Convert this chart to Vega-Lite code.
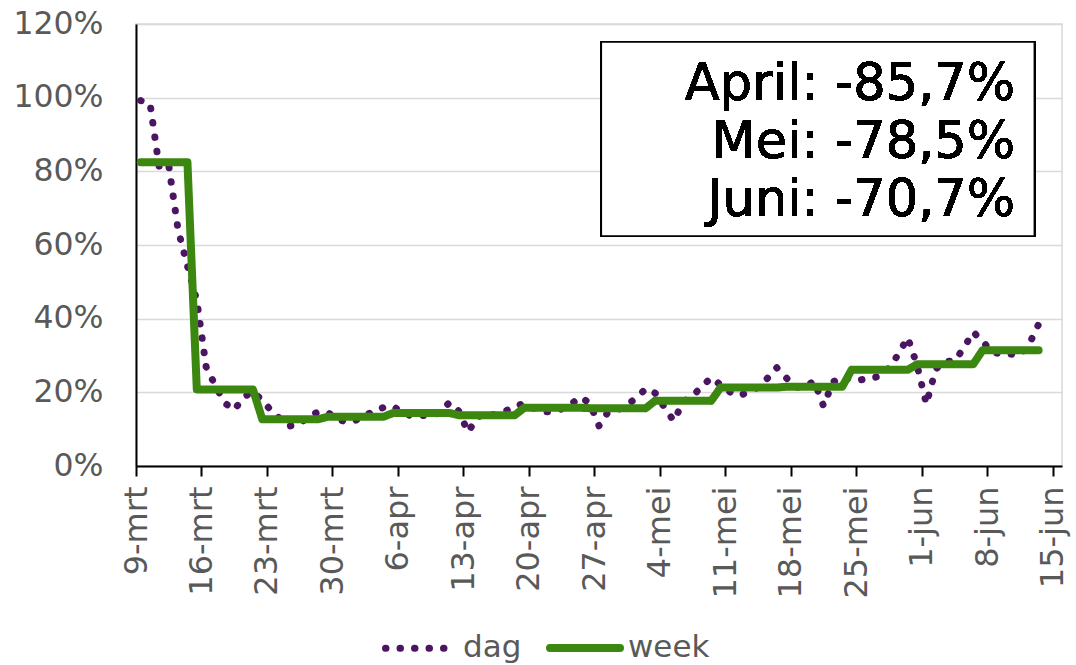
{
  "$schema": "https://vega.github.io/schema/vega-lite/v6.json",
  "width": 926,
  "height": 442,
  "autosize": "none",
  "padding": {"left": 136, "top": 24, "right": 14, "bottom": 199},
  "background": "white",
  "config": {
    "font": "DejaVu Sans",
    "view": {"stroke": "#d9d9d9", "strokeWidth": 1.5},
    "axis": {"labelFont": "DejaVu Sans", "labelFontSize": 31.5, "labelColor": "#595959", "domainColor": "#000000", "domainWidth": 2}
  },
  "data": {
    "values": [
      {"date": "2020-03-09", "dag": 99.2, "week": 82.5},
      {"date": "2020-03-10", "dag": 98.4, "week": 82.5},
      {"date": "2020-03-11", "dag": 80.8, "week": 82.5},
      {"date": "2020-03-12", "dag": 81.6, "week": 82.5},
      {"date": "2020-03-13", "dag": 64.1, "week": 82.5},
      {"date": "2020-03-14", "dag": 54.3, "week": 82.5},
      {"date": "2020-03-15", "dag": 44.9, "week": 20.8},
      {"date": "2020-03-16", "dag": 26.9, "week": 20.8},
      {"date": "2020-03-17", "dag": 21.7, "week": 20.8},
      {"date": "2020-03-18", "dag": 17.1, "week": 20.8},
      {"date": "2020-03-19", "dag": 15.2, "week": 20.8},
      {"date": "2020-03-20", "dag": 18.7, "week": 20.8},
      {"date": "2020-03-21", "dag": 20.2, "week": 20.8},
      {"date": "2020-03-22", "dag": 17.8, "week": 12.7},
      {"date": "2020-03-23", "dag": 14.9, "week": 12.7},
      {"date": "2020-03-24", "dag": 12.6, "week": 12.7},
      {"date": "2020-03-25", "dag": 10.9, "week": 12.7},
      {"date": "2020-03-26", "dag": 11.4, "week": 12.7},
      {"date": "2020-03-27", "dag": 13.6, "week": 12.7},
      {"date": "2020-03-28", "dag": 14.7, "week": 12.7},
      {"date": "2020-03-29", "dag": 14.5, "week": 13.4},
      {"date": "2020-03-30", "dag": 12.8, "week": 13.4},
      {"date": "2020-03-31", "dag": 11.9, "week": 13.4},
      {"date": "2020-04-01", "dag": 12.4, "week": 13.4},
      {"date": "2020-04-02", "dag": 13.6, "week": 13.4},
      {"date": "2020-04-03", "dag": 15.1, "week": 13.4},
      {"date": "2020-04-04", "dag": 15.9, "week": 13.4},
      {"date": "2020-04-05", "dag": 16.2, "week": 14.4},
      {"date": "2020-04-06", "dag": 14.4, "week": 14.4},
      {"date": "2020-04-07", "dag": 13.6, "week": 14.4},
      {"date": "2020-04-08", "dag": 13.8, "week": 14.4},
      {"date": "2020-04-09", "dag": 13.4, "week": 14.4},
      {"date": "2020-04-10", "dag": 14.7, "week": 14.4},
      {"date": "2020-04-11", "dag": 17.2, "week": 14.4},
      {"date": "2020-04-12", "dag": 14.9, "week": 13.8},
      {"date": "2020-04-13", "dag": 9.2, "week": 13.8},
      {"date": "2020-04-14", "dag": 13.3, "week": 13.8},
      {"date": "2020-04-15", "dag": 14.3, "week": 13.8},
      {"date": "2020-04-16", "dag": 13.8, "week": 13.8},
      {"date": "2020-04-17", "dag": 14.9, "week": 13.8},
      {"date": "2020-04-18", "dag": 16.2, "week": 13.8},
      {"date": "2020-04-19", "dag": 17.0, "week": 15.8},
      {"date": "2020-04-20", "dag": 15.7, "week": 15.8},
      {"date": "2020-04-21", "dag": 14.7, "week": 15.8},
      {"date": "2020-04-22", "dag": 14.7, "week": 15.8},
      {"date": "2020-04-23", "dag": 15.5, "week": 15.8},
      {"date": "2020-04-24", "dag": 16.8, "week": 15.8},
      {"date": "2020-04-25", "dag": 18.7, "week": 15.8},
      {"date": "2020-04-26", "dag": 17.1, "week": 15.7},
      {"date": "2020-04-27", "dag": 10.9, "week": 15.7},
      {"date": "2020-04-28", "dag": 14.8, "week": 15.7},
      {"date": "2020-04-29", "dag": 15.3, "week": 15.7},
      {"date": "2020-04-30", "dag": 16.6, "week": 15.7},
      {"date": "2020-05-01", "dag": 18.5, "week": 15.7},
      {"date": "2020-05-02", "dag": 21.0, "week": 15.7},
      {"date": "2020-05-03", "dag": 19.8, "week": 17.7},
      {"date": "2020-05-04", "dag": 15.9, "week": 17.7},
      {"date": "2020-05-05", "dag": 12.2, "week": 17.7},
      {"date": "2020-05-06", "dag": 17.5, "week": 17.7},
      {"date": "2020-05-07", "dag": 19.0, "week": 17.7},
      {"date": "2020-05-08", "dag": 21.6, "week": 17.7},
      {"date": "2020-05-09", "dag": 24.0, "week": 17.7},
      {"date": "2020-05-10", "dag": 22.0, "week": 21.3},
      {"date": "2020-05-11", "dag": 20.1, "week": 21.3},
      {"date": "2020-05-12", "dag": 19.1, "week": 21.3},
      {"date": "2020-05-13", "dag": 20.1, "week": 21.3},
      {"date": "2020-05-14", "dag": 21.4, "week": 21.3},
      {"date": "2020-05-15", "dag": 23.8, "week": 21.3},
      {"date": "2020-05-16", "dag": 26.7, "week": 21.3},
      {"date": "2020-05-17", "dag": 24.0, "week": 21.5},
      {"date": "2020-05-18", "dag": 21.4, "week": 21.5},
      {"date": "2020-05-19", "dag": 21.4, "week": 21.5},
      {"date": "2020-05-20", "dag": 23.1, "week": 21.5},
      {"date": "2020-05-21", "dag": 16.3, "week": 21.5},
      {"date": "2020-05-22", "dag": 22.8, "week": 21.5},
      {"date": "2020-05-23", "dag": 24.2, "week": 21.5},
      {"date": "2020-05-24", "dag": 23.4, "week": 26.1},
      {"date": "2020-05-25", "dag": 23.4, "week": 26.1},
      {"date": "2020-05-26", "dag": 23.9, "week": 26.1},
      {"date": "2020-05-27", "dag": 24.3, "week": 26.1},
      {"date": "2020-05-28", "dag": 26.6, "week": 26.1},
      {"date": "2020-05-29", "dag": 30.3, "week": 26.1},
      {"date": "2020-05-30", "dag": 34.9, "week": 26.1},
      {"date": "2020-05-31", "dag": 27.4, "week": 27.6},
      {"date": "2020-06-01", "dag": 16.8, "week": 27.6},
      {"date": "2020-06-02", "dag": 26.3, "week": 27.6},
      {"date": "2020-06-03", "dag": 28.4, "week": 27.6},
      {"date": "2020-06-04", "dag": 28.5, "week": 27.6},
      {"date": "2020-06-05", "dag": 32.0, "week": 27.6},
      {"date": "2020-06-06", "dag": 36.4, "week": 27.6},
      {"date": "2020-06-07", "dag": 33.9, "week": 31.4},
      {"date": "2020-06-08", "dag": 31.0, "week": 31.4},
      {"date": "2020-06-09", "dag": 30.4, "week": 31.4},
      {"date": "2020-06-10", "dag": 30.4, "week": 31.4},
      {"date": "2020-06-11", "dag": 30.1, "week": 31.4},
      {"date": "2020-06-12", "dag": 33.1, "week": 31.4},
      {"date": "2020-06-13", "dag": 38.5, "week": 31.4}
    ]
  },
  "layer": [
    {
      "transform": [{"fold": ["dag", "week"], "as": ["reeks", "waarde"]}],
      "mark": {"type": "line", "strokeCap": "round", "strokeJoin": "round"},
      "encoding": {
        "x": {
          "field": "date",
          "type": "temporal",
          "timeUnit": "utcyearmonthdate",
          "bandPosition": 0.5,
          "title": null,
          "scale": {"type": "utc", "domain": [{"year": 2020, "month": 3, "date": 9, "utc": true}, {"year": 2020, "month": 6, "date": 16, "utc": true}]},
          "axis": {
            "title": null,
            "grid": false,
            "values": [
              {"year": 2020, "month": 3, "date": 9, "utc": true},
              {"year": 2020, "month": 3, "date": 16, "utc": true},
              {"year": 2020, "month": 3, "date": 23, "utc": true},
              {"year": 2020, "month": 3, "date": 30, "utc": true},
              {"year": 2020, "month": 4, "date": 6, "utc": true},
              {"year": 2020, "month": 4, "date": 13, "utc": true},
              {"year": 2020, "month": 4, "date": 20, "utc": true},
              {"year": 2020, "month": 4, "date": 27, "utc": true},
              {"year": 2020, "month": 5, "date": 4, "utc": true},
              {"year": 2020, "month": 5, "date": 11, "utc": true},
              {"year": 2020, "month": 5, "date": 18, "utc": true},
              {"year": 2020, "month": 5, "date": 25, "utc": true},
              {"year": 2020, "month": 6, "date": 1, "utc": true},
              {"year": 2020, "month": 6, "date": 8, "utc": true},
              {"year": 2020, "month": 6, "date": 15, "utc": true}
            ],
            "labelExpr": "utcdate(datum.value) + '-' + ['jan','feb','mrt','apr','mei','jun','jul','aug','sep','okt','nov','dec'][utcmonth(datum.value)]",
            "labelAngle": 270,
            "labelFontSize": 32,
            "labelPadding": 10,
            "tickSize": 10,
            "tickWidth": 2,
            "tickColor": "#000000"
          }
        },
        "y": {
          "field": "waarde",
          "type": "quantitative",
          "title": null,
          "scale": {"domain": [0, 120]},
          "axis": {
            "title": null,
            "values": [0, 20, 40, 60, 80, 100, 120],
            "labelExpr": "datum.value + '%'",
            "ticks": false,
            "labelPadding": 33,
            "grid": true,
            "gridColor": "#d9d9d9",
            "gridWidth": 1.5
          }
        },
        "color": {
          "field": "reeks",
          "type": "nominal",
          "scale": {"domain": ["dag", "week"], "range": ["#4a1561", "#3b870f"]},
          "legend": {
            "title": null,
            "orient": "none",
            "direction": "horizontal",
            "legendX": 246,
            "legendY": 585,
            "symbolType": "stroke",
            "symbolSize": 4900,
            "labelFont": "DejaVu Sans",
            "labelFontSize": 31,
            "labelColor": "#595959",
            "labelOffset": 4,
            "columnPadding": 12,
            "padding": 0,
            "encode": {"symbols": {"update": {"strokeCap": {"value": "round"}}}}
          }
        },
        "strokeDash": {
          "field": "reeks",
          "type": "nominal",
          "scale": {"domain": ["dag", "week"], "range": [[0.5, 14], [1, 0]]}
        },
        "strokeWidth": {
          "field": "reeks",
          "type": "nominal",
          "scale": {"domain": ["dag", "week"], "range": [7, 8]}
        }
      }
    },
    {
      "mark": {"type": "rect", "fill": "white", "stroke": "#000000", "strokeWidth": 1.5},
      "encoding": {
        "x": {"datum": {"year": 2020, "month": 4, "date": 27, "hours": 18, "utc": true}, "type": "temporal"},
        "x2": {"datum": {"year": 2020, "month": 6, "date": 13, "hours": 1, "utc": true}},
        "y": {"datum": 115.1, "type": "quantitative"},
        "y2": {"datum": 62.45}
      }
    },
    {
      "mark": {"type": "text", "align": "right", "baseline": "alphabetic", "font": "DejaVu Sans", "fontSize": 51, "lineHeight": 58, "color": "#000000"},
      "encoding": {
        "x": {"datum": {"year": 2020, "month": 6, "date": 11, "utc": true}, "type": "temporal"},
        "y": {"datum": 99.4, "type": "quantitative"},
        "text": {"value": ["April: -85,7%", "Mei: -78,5%", "Juni: -70,7%"]}
      }
    }
  ]
}
